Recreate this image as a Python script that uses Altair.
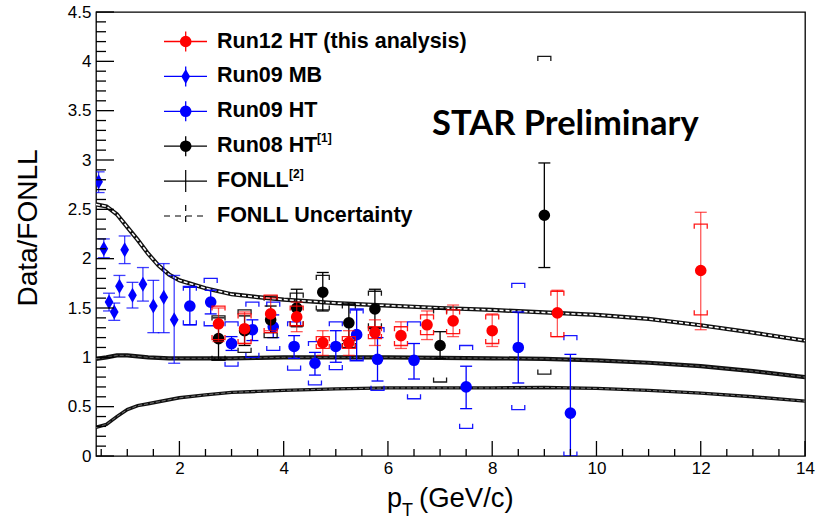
import altair as alt
import pandas as pd

# ---------------- data ----------------
# Run12 HT (this analysis)
r12_pt = [2.75, 3.25, 3.75, 4.25, 4.75, 5.25, 5.75, 6.25, 6.75, 7.25, 8.0, 9.25, 12.0]
r12_val = [1.34, 1.29, 1.44, 1.41, 1.15, 1.15, 1.25, 1.22, 1.33, 1.37, 1.27, 1.45, 1.88]
r12_stat_lo = [1.16, 1.14, 1.27, 1.26, 1.02, 1.02, 1.12, 1.09, 1.18, 1.21, 1.11, 1.21, 1.28]
r12_stat_hi = [1.50, 1.46, 1.60, 1.56, 1.27, 1.27, 1.38, 1.36, 1.47, 1.53, 1.44, 1.68, 2.47]
r12_sys_lo = [1.18, 1.14, 1.25, 1.32, 1.09, 1.09, 1.19, 1.12, 1.23, 1.24, 1.14, 1.21, 1.43]
r12_sys_hi = [1.52, 1.44, 1.63, 1.52, 1.21, 1.21, 1.31, 1.31, 1.43, 1.48, 1.43, 1.67, 2.35]

# Run09 MB
mb_pt = [0.45, 0.55, 0.65, 0.75, 0.85, 0.95, 1.1, 1.3, 1.5, 1.7, 1.9]
mb_val = [2.78, 2.10, 1.56, 1.46, 1.72, 2.09, 1.63, 1.74, 1.52, 1.61, 1.38]
mb_stat_lo = [2.67, 2.01, 1.47, 1.375, 1.61, 1.95, 1.50, 1.57, 1.25, 1.25, 0.94]
mb_stat_hi = [2.88, 2.20, 1.65, 1.55, 1.83, 2.23, 1.76, 1.91, 1.78, 1.95, 1.83]

# Run09 HT
h09_pt = [2.2, 2.6, 3.0, 3.4, 3.8, 4.2, 4.6, 5.0, 5.4, 5.8, 6.5, 7.5, 8.5, 9.5]
h09_val = [1.52, 1.56, 1.14, 1.28, 1.31, 1.11, 0.94, 1.11, 1.23, 0.98, 0.97, 0.70, 1.10, 0.435]
h09_stat_lo = [1.33, 1.44, 1.07, 1.17, 1.20, 0.99, 0.82, 0.95, 0.97, 0.76, 0.78, 0.48, 0.74, -0.16]
h09_stat_hi = [1.71, 1.68, 1.21, 1.38, 1.43, 1.22, 1.05, 1.27, 1.48, 1.20, 1.14, 0.91, 1.46, 1.03]
h09_sys_lo = [1.33, 1.32, 0.91, 1.00, 1.07, 0.87, 0.72, 0.875, 0.965, 0.665, 0.58, 0.28, 0.47, 0.0]
h09_sys_hi = [1.72, 1.80, 1.36, 1.56, 1.56, 1.36, 1.16, 1.36, 1.49, 1.30, 1.36, 1.12, 1.75, 1.22]

# Run08 HT
r08_pt = [2.75, 3.25, 3.75, 4.25, 4.75, 5.25, 5.75, 7.0, 9.0]
r08_val = [1.19, 1.27, 1.38, 1.50, 1.66, 1.35, 1.49, 1.12, 2.44]
r08_stat_lo = [0.98, 1.12, 1.25, 1.31, 1.47, 1.17, 1.29, 0.99, 1.91]
r08_stat_hi = [1.40, 1.42, 1.52, 1.69, 1.86, 1.54, 1.69, 1.26, 2.97]
r08_sys_lo = [0.97, 1.05, 1.20, 1.32, 1.48, 1.10, 1.30, 0.75, 0.83]
r08_sys_hi = [1.42, 1.48, 1.62, 1.65, 1.83, 1.54, 1.67, 1.49, 4.05]

# FONLL central value and uncertainty band (ratio to FONLL)
fonll_pt = [0.4, 0.6, 0.8, 1.0, 1.2, 1.4, 1.6, 1.8, 2.0, 2.5, 3.0, 3.5, 4.0, 5.0, 6.0,
            7.0, 8.0, 9.0, 10.0, 11.0, 12.0, 13.0, 14.0]
fonll_central = [0.985, 1.0, 1.02, 1.02, 1.01, 1.0, 0.995, 0.99, 0.99, 0.99, 0.99, 0.995,
                 1.0, 1.0, 1.0, 0.995, 0.99, 0.985, 0.97, 0.945, 0.91, 0.86, 0.80]
fonll_upper = [2.55, 2.53, 2.45, 2.32, 2.19, 2.05, 1.93, 1.84, 1.78, 1.70, 1.64, 1.61,
               1.585, 1.55, 1.525, 1.50, 1.48, 1.455, 1.43, 1.39, 1.325, 1.25, 1.17]
fonll_lower = [0.29, 0.32, 0.40, 0.47, 0.51, 0.53, 0.55, 0.57, 0.59, 0.62, 0.645, 0.655,
               0.665, 0.68, 0.69, 0.69, 0.69, 0.695, 0.685, 0.665, 0.637, 0.60, 0.556]

# axis ticks
x_major = [2, 4, 6, 8, 10, 12, 14]
x_minor = [v / 2 for v in range(1, 29) if v % 4 != 0]
y_major = [v / 2 for v in range(0, 10)]
y_minor = [v / 10 for v in range(1, 45) if v % 5 != 0]

legend_labels = ["Run12 HT (this analysis)", "Run09 MB", "Run09 HT", "Run08 HT",
                 "FONLL", "FONLL Uncertainty"]

# ---------------- layout / style ----------------
W, H = 709, 444
PAD = {"left": 96, "top": 12, "right": 20, "bottom": 63}
FONT = "Liberation Sans"
RED, BLUE, BLACK = "#ff0000", "#0000ff", "#000000"
MSIZE = 135

xs = alt.Scale(domain=[0.4, 14], nice=False, zero=False)
ys = alt.Scale(domain=[0, 4.5], nice=False, zero=False)
xa = alt.Axis(values=x_major, ticks=False, domain=False, grid=False, labelFont=FONT,
              labelFontSize=17, labelColor="black", labelPadding=4, labelFlush=False,
              labelOverlap=False, title=None)
ya = alt.Axis(values=y_major, ticks=False, domain=False, grid=False, labelFont=FONT,
              labelFontSize=17, labelColor="black", labelPadding=5, labelFlush=False,
              labelOverlap=False, format="~g", title=None)


def X(f):
    return alt.X(f, type="quantitative", scale=xs, axis=xa)


def Y(f):
    return alt.Y(f, type="quantitative", scale=ys, axis=ya)


CAP = "M-1,0L1,0"
BR_TOP = "M-1,0.7L-1,0L1,0L1,0.7"
BR_BOT = "M-1,-0.7L-1,0L1,0L1,-0.7"
DIAMOND = "M0,-1L0.58,0L0,1L-0.58,0Z"


def shape_layer(df, yf, shape, size, color, opacity=1.0, sw=1.3, clip=True):
    return alt.Chart(df).mark_point(shape=shape, size=size, filled=False, strokeWidth=sw,
                                    color=color, opacity=opacity, clip=clip).encode(
        x=X("pt"), y=Y(yf))


def series_layers(df, color, bar_opacity, marker, msize, with_sys=True):
    out = [
        alt.Chart(df).mark_rule(color=color, strokeWidth=1.3, opacity=bar_opacity,
                                clip=True).encode(x=X("pt"), y=Y("lo"), y2="hi"),
        shape_layer(df, "hi", CAP, 144, color, bar_opacity),
        shape_layer(df, "lo", CAP, 144, color, bar_opacity),
    ]
    if with_sys:
        out += [shape_layer(df, "shi", BR_TOP, 169, color, 0.9),
                shape_layer(df, "slo", BR_BOT, 169, color, 0.9)]
    out.append(alt.Chart(df).mark_point(shape=marker, size=msize, filled=True,
                                        color=color, opacity=1, clip=True).encode(
        x=X("pt"), y=Y("val")))
    return out


df12 = pd.DataFrame({"pt": r12_pt, "val": r12_val, "lo": r12_stat_lo, "hi": r12_stat_hi,
                     "slo": r12_sys_lo, "shi": r12_sys_hi})
dfmb = pd.DataFrame({"pt": mb_pt, "val": mb_val, "lo": mb_stat_lo, "hi": mb_stat_hi})
df09 = pd.DataFrame({"pt": h09_pt, "val": h09_val, "lo": h09_stat_lo, "hi": h09_stat_hi,
                     "slo": h09_sys_lo, "shi": h09_sys_hi})
df08 = pd.DataFrame({"pt": r08_pt, "val": r08_val, "lo": r08_stat_lo, "hi": r08_stat_hi,
                     "slo": r08_sys_lo, "shi": r08_sys_hi})
dff = pd.DataFrame({"pt": fonll_pt, "c": fonll_central, "u": fonll_upper, "l": fonll_lower})

# FONLL curves: solid central line, hatched-looking uncertainty edges
fonll_layers = []
for f, w, dash_w in [("u", 4.2, 1.5), ("l", 3.4, 1.0), ("c", 4.2, 0.8)]:
    fonll_layers.append(alt.Chart(dff).mark_line(color="#111", strokeWidth=w,
                                                 clip=True).encode(x=X("pt"), y=Y(f)))
    fonll_layers.append(alt.Chart(dff).mark_line(color="#ffffff" if f == "u" else "#777",
                                                 strokeWidth=dash_w, strokeDash=[4, 2],
                                                 clip=True).encode(x=X("pt"), y=Y(f)))

# inward axis ticks
tx_major = pd.DataFrame({"t": x_major, "y0": [0] * len(x_major)})
tx_minor = pd.DataFrame({"t": x_minor, "y0": [0] * len(x_minor)})
ty_major = pd.DataFrame({"t": y_major, "x0": [0.4] * len(y_major)})
ty_minor = pd.DataFrame({"t": y_minor, "x0": [0.4] * len(y_minor)})


def tick_layer(df, horizontal, shape, size):
    enc = dict(x=X("x0"), y=Y("t")) if horizontal else dict(x=X("t"), y=Y("y0"))
    return alt.Chart(df).mark_point(shape=shape, size=size, filled=False, strokeWidth=1.3,
                                    color="black", opacity=1).encode(**enc)


tick_layers = [
    tick_layer(tx_major, False, "M0,0L0,-1", 900),
    tick_layer(tx_minor, False, "M0,0L0,-1", 196),
    tick_layer(ty_major, True, "M0,0L1,0", 1296),
    tick_layer(ty_minor, True, "M0,0L1,0", 400),
]

# ---------------- legend ----------------
one = pd.DataFrame({"k": [0]})
row_y = [29.5 + 34.9 * i for i in range(6)]
LX0, LX1, LXC, LTX = 68, 111, 89.7, 121
legend_layers = []
leg_style = [(RED, "circle", MSIZE), (BLUE, DIAMOND, 225), (BLUE, "circle", MSIZE),
             (BLACK, "circle", MSIZE)]
for i, (col, shp, sz) in enumerate(leg_style):
    yy = row_y[i]
    legend_layers += [
        alt.Chart(one).mark_rule(color=col, strokeWidth=1.3).encode(
            x=alt.value(LX0), x2=alt.value(LX1), y=alt.value(yy)),
        alt.Chart(one).mark_rule(color=col, strokeWidth=1.3).encode(
            x=alt.value(LXC), y=alt.value(yy - 10), y2=alt.value(yy + 10)),
        alt.Chart(one).mark_point(shape=shp, size=sz, filled=True, color=col,
                                  opacity=1).encode(x=alt.value(LXC), y=alt.value(yy)),
    ]
yy = row_y[4]
legend_layers += [
    alt.Chart(one).mark_rule(color="black", strokeWidth=1.2).encode(
        x=alt.value(LX0), x2=alt.value(LX1), y=alt.value(yy)),
    alt.Chart(one).mark_rule(color="black", strokeWidth=1.2).encode(
        x=alt.value(LXC), y=alt.value(yy - 11), y2=alt.value(yy + 11)),
]
yy = row_y[5]
legend_layers += [
    alt.Chart(one).mark_rule(color="black", strokeWidth=1.2, strokeDash=[6, 5]).encode(
        x=alt.value(LX0), x2=alt.value(LX1), y=alt.value(yy)),
    alt.Chart(one).mark_rule(color="black", strokeWidth=1.2, strokeDash=[6, 5]).encode(
        x=alt.value(LXC), y=alt.value(yy - 11), y2=alt.value(yy + 11)),
]
for i, lab in enumerate(legend_labels):
    legend_layers.append(
        alt.Chart(one).mark_text(text=lab, font=FONT, fontSize=21.5, fontWeight="bold",
                                 align="left", baseline="middle", color="black").encode(
            x=alt.value(LTX), y=alt.value(row_y[i])))
legend_layers += [
    alt.Chart(one).mark_text(text="[1]", font=FONT, fontSize=12, fontWeight="bold",
                             align="left", baseline="middle").encode(
        x=alt.value(221), y=alt.value(126)),
    alt.Chart(one).mark_text(text="[2]", font=FONT, fontSize=12, fontWeight="bold",
                             align="left", baseline="middle").encode(
        x=alt.value(193), y=alt.value(162)),
]

# ---------------- titles and label ----------------
text_layers = [
    alt.Chart(one).mark_text(text="STAR Preliminary", font="Lato", fontSize=34.5,
                             fontWeight="bold", align="left", baseline="alphabetic").encode(
        x=alt.value(336), y=alt.value(123)),
    alt.Chart(one).mark_text(text="Data/FONLL", font=FONT, fontSize=28, angle=270,
                             align="center", baseline="middle").encode(
        x=alt.value(-67), y=alt.value(216)),
    alt.Chart(one).mark_text(text="p", font=FONT, fontSize=27, align="left",
                             baseline="alphabetic").encode(x=alt.value(291), y=alt.value(495)),
    alt.Chart(one).mark_text(text="T", font=FONT, fontSize=18, align="left",
                             baseline="alphabetic").encode(x=alt.value(306), y=alt.value(504)),
    alt.Chart(one).mark_text(text="(GeV/c)", font=FONT, fontSize=27.5, align="left",
                             baseline="alphabetic").encode(x=alt.value(323), y=alt.value(495)),
]

layers = (fonll_layers
          + series_layers(dfmb, BLUE, 0.75, DIAMOND, 225, with_sys=False)
          + series_layers(df09, BLUE, 1.0, "circle", MSIZE)
          + series_layers(df08, BLACK, 1.0, "circle", MSIZE)
          + series_layers(df12, RED, 0.65, "circle", MSIZE)
          + tick_layers + legend_layers + text_layers)

chart = alt.layer(*layers).properties(
    width=W, height=H, padding=PAD, autosize=alt.AutoSizeParams(type="none"),
    background="white",
).configure_view(stroke="black", strokeWidth=1.3)

chart.save("out.html", embed_options={"renderer": "svg", "actions": False})
